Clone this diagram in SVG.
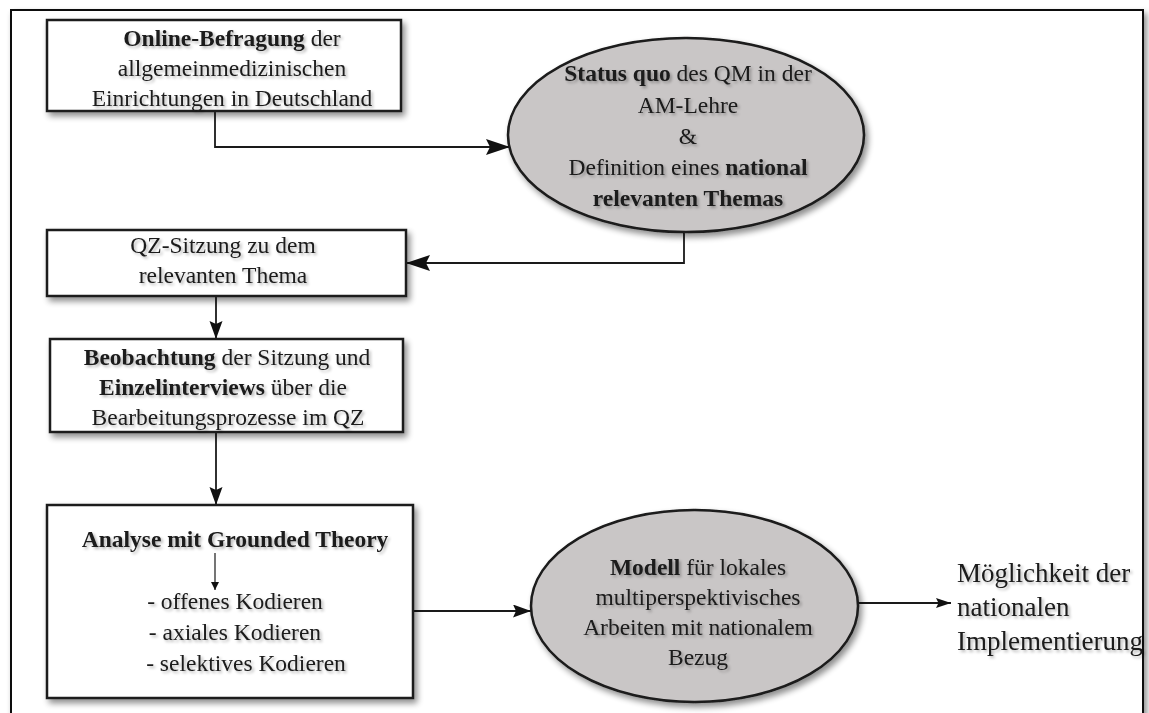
<svg xmlns="http://www.w3.org/2000/svg" width="1149" height="713" viewBox="0 0 1149 713">
  <style>
    .box { fill: #ffffff; stroke: #1a1a1a; stroke-width: 2.5; }
    .oval { fill: #c9c6c6; stroke: #1a1a1a; stroke-width: 2.5; }
    .t { font-family: "Liberation Serif", "Times New Roman", serif; font-size: 23.5px; fill: #1a1a1a; text-anchor: middle; }
    .big { font-family: "Liberation Serif", "Times New Roman", serif; font-size: 27px; fill: #1a1a1a; }
    .b { font-weight: bold; }
    .con { fill: none; stroke: #1a1a1a; stroke-width: 1.8; }
    .thin { fill: none; stroke: #1a1a1a; stroke-width: 1.2; }
  </style>
  <defs>
    <filter id="sh" x="-10%" y="-10%" width="125%" height="130%">
      <feGaussianBlur in="SourceAlpha" stdDeviation="3"/>
      <feOffset dx="3" dy="4" result="o"/>
      <feComponentTransfer><feFuncA type="linear" slope="0.45"/></feComponentTransfer>
      <feMerge><feMergeNode/><feMergeNode in="SourceGraphic"/></feMerge>
    </filter>
    <filter id="tsh" x="-5%" y="-20%" width="110%" height="150%">
      <feGaussianBlur in="SourceAlpha" stdDeviation="1.5"/>
      <feOffset dx="1.5" dy="2" result="o"/>
      <feComponentTransfer><feFuncA type="linear" slope="0.3"/></feComponentTransfer>
      <feMerge><feMergeNode/><feMergeNode in="SourceGraphic"/></feMerge>
    </filter>
    <marker id="aL" markerUnits="userSpaceOnUse" markerWidth="26" markerHeight="18" refX="24" refY="8" orient="auto">
      <path d="M0,0 L24,8 L0,16 L4,8 z" fill="#111"/>
    </marker>
    <marker id="aM" markerUnits="userSpaceOnUse" markerWidth="20" markerHeight="14" refX="18" refY="6.5" orient="auto">
      <path d="M0,0 L18,6.5 L0,13 L3,6.5 z" fill="#111"/>
    </marker>
    <marker id="aS" markerUnits="userSpaceOnUse" markerWidth="16" markerHeight="11" refX="15" refY="5" orient="auto">
      <path d="M0,0 L15,5 L0,10 L2.5,5 z" fill="#111"/>
    </marker>
    <marker id="aT" markerUnits="userSpaceOnUse" markerWidth="10" markerHeight="10" refX="8" refY="4" orient="auto">
      <path d="M0,0 L8,4 L0,8 z" fill="#111"/>
    </marker>
  </defs>

  <rect id="frame" x="11" y="10" width="1132" height="730" fill="#ffffff" stroke="#111" stroke-width="2" filter="url(#sh)"/>

  <g id="connectors">
    <path class="con" d="M215,111 V147 H510" marker-end="url(#aL)"/>
    <path class="con" d="M684,232 V263 H406" marker-end="url(#aL)"/>
    <path class="con" d="M216,296 V339" marker-end="url(#aM)"/>
    <path class="con" d="M216,432 V505" marker-end="url(#aM)"/>
    <path class="con" d="M413,611 H531" marker-end="url(#aM)"/>
    <path class="con" d="M858,603 H951" marker-end="url(#aS)"/>
  </g>

  <g id="n1">
    <rect class="box" x="47" y="20" width="354" height="91" filter="url(#sh)"/>
    <g filter="url(#tsh)">
      <text class="t" x="232" y="46"><tspan class="b">Online-Befragung</tspan> der</text>
      <text class="t" x="232" y="76">allgemeinmedizinischen</text>
      <text class="t" x="232" y="106">Einrichtungen in Deutschland</text>
    </g>
  </g>

  <g id="n2">
    <ellipse class="oval" cx="686" cy="135" rx="178" ry="97" filter="url(#sh)"/>
    <g filter="url(#tsh)">
      <text class="t" x="688" y="81"><tspan class="b">Status quo</tspan> des QM in der</text>
      <text class="t" x="688" y="113">AM-Lehre</text>
      <text class="t" x="688" y="144">&amp;</text>
      <text class="t" x="688" y="175">Definition eines <tspan class="b">national</tspan></text>
      <text class="t b" x="688" y="206">relevanten Themas</text>
    </g>
  </g>

  <g id="n3">
    <rect class="box" x="47" y="230" width="359" height="66" filter="url(#sh)"/>
    <g filter="url(#tsh)">
      <text class="t" x="223" y="253">QZ-Sitzung zu dem</text>
      <text class="t" x="223" y="283">relevanten Thema</text>
    </g>
  </g>

  <g id="n4">
    <rect class="box" x="50" y="339" width="353" height="93" filter="url(#sh)"/>
    <g filter="url(#tsh)">
      <text class="t" x="227" y="365"><tspan class="b">Beobachtung</tspan> der Sitzung und</text>
      <text class="t" x="223" y="395"><tspan class="b">Einzelinterviews</tspan> über die</text>
      <text class="t" x="228" y="425">Bearbeitungsprozesse im QZ</text>
    </g>
  </g>

  <g id="n5">
    <rect class="box" x="47" y="505" width="366" height="193" filter="url(#sh)"/>
    <path class="thin" d="M215,553 V590" marker-end="url(#aT)"/>
    <g filter="url(#tsh)">
      <text class="t b" x="235" y="547">Analyse mit Grounded Theory</text>
      <text class="t" x="235" y="609">- offenes Kodieren</text>
      <text class="t" x="235" y="640">- axiales Kodieren</text>
      <text class="t" x="246" y="671">- selektives Kodieren</text>
    </g>
  </g>

  <g id="n6">
    <ellipse class="oval" cx="694.5" cy="606" rx="163.5" ry="96" filter="url(#sh)"/>
    <g filter="url(#tsh)">
      <text class="t" x="698" y="575"><tspan class="b">Modell</tspan> für lokales</text>
      <text class="t" x="698" y="605">multiperspektivisches</text>
      <text class="t" x="698" y="635">Arbeiten mit nationalem</text>
      <text class="t" x="698" y="665">Bezug</text>
    </g>
  </g>

  <g id="n7" filter="url(#tsh)">
    <text class="big" x="957" y="582">Möglichkeit der</text>
    <text class="big" x="957" y="616">nationalen</text>
    <text class="big" x="957" y="650">Implementierung</text>
  </g>
</svg>
